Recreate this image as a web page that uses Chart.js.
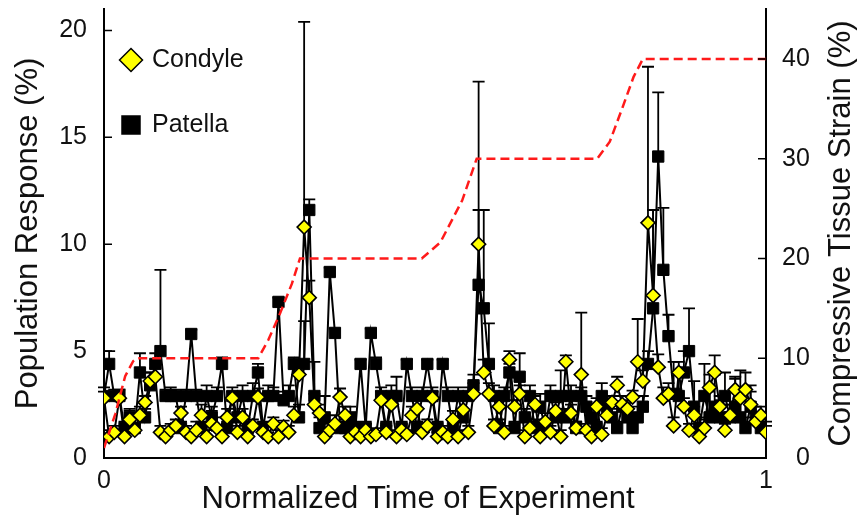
<!DOCTYPE html>
<html lang="en">
<head>
<meta charset="UTF-8">
<title>Population Response and Tissue Strain</title>
<script src="https://cdn.jsdelivr.net/npm/chart.js"></script>
<style>
body{margin:0;background:#fff;}
#wrap{width:858px;height:518px;}
</style>
</head>
<body>
<div id="wrap"><canvas id="chart"></canvas></div>
<script>
// mean response (%) and upper SD at each recording, in time order
const condyle = [
  2.8,1.0,1.2,2.8,1.0,1.8,1.3,2.0,2.6,3.6,
  3.8,1.2,1.0,1.3,1.5,2.1,1.2,1.0,1.3,2.0,
  1.0,1.6,1.4,1.0,1.9,2.8,1.2,1.9,1.0,1.5,
  2.85,1.2,1.0,1.6,1.0,1.45,1.2,2.0,3.9,10.8,
  7.5,2.5,2.1,1.0,1.3,1.6,2.85,2.0,1.0,1.2,
  1.0,1.3,1.0,1.1,2.7,1.2,2.5,1.0,1.3,1.1,
  2.0,2.3,1.2,1.5,2.8,1.0,1.2,1.0,1.8,1.0,
  2.25,1.2,3.0,10.0,4.0,3.0,1.5,2.4,1.2,4.6,
  2.4,3.0,1.0,1.4,2.5,1.0,1.7,1.2,2.2,1.0,
  4.5,2.1,1.4,3.9,1.3,1.0,2.4,1.1,2.0,2.6,
  3.4,2.5,2.3,2.85,4.5,3.6,11.0,7.6,4.25,2.8,
  3.0,1.5,4.0,2.4,1.3,2.0,1.0,1.4,3.3,4.0,
  2.4,1.3,2.0,3.2,2.8,3.2,2.5,1.7,2.0,1.2
];
const condyleErr = [
  0.3,0.3,0.3,0.4,0.2,0.5,0.3,0.4,0.3,0.4,
  0.4,0.3,0.2,0.3,0.3,0.3,0.3,0.3,0.4,0.5,
  0.3,0.6,0.5,0.3,0.4,0.3,0.3,0.4,0.2,0.3,
  0.4,0.3,0.2,0.3,0.3,0.3,0.3,0.4,0.5,9.6,
  0.8,0.5,0.4,0.3,0.3,0.4,0.4,0.4,0.3,0.3,
  0.3,0.3,0.2,0.3,0.4,0.3,0.4,0.3,0.3,0.2,
  0.4,0.4,0.3,0.3,0.3,0.2,0.3,0.3,0.4,0.3,
  0.5,0.3,0.5,7.6,0.6,0.5,0.3,0.4,0.3,0.4,
  0.3,0.4,0.3,0.3,0.4,0.3,0.4,0.3,0.4,0.3,
  0.3,0.4,0.3,2.9,0.3,0.2,0.4,0.3,0.4,0.3,
  0.4,0.4,0.4,0.3,2.0,0.5,7.3,4.0,0.6,0.5,
  0.5,0.4,0.5,0.4,0.3,0.4,0.3,0.4,0.6,0.8,
  0.5,0.3,0.5,0.5,1.3,0.8,0.6,0.4,0.4,0.3
];
const patella = [
  2.9,4.4,2.9,2.9,1.4,1.9,1.4,4.0,1.9,3.4,
  4.4,5.0,2.9,2.9,2.9,1.4,2.9,5.8,2.9,1.4,
  2.9,1.9,2.9,4.4,1.4,2.9,1.9,2.9,1.4,2.9,
  4.0,1.4,2.9,2.9,7.3,2.7,2.9,4.4,1.9,4.4,
  11.6,2.9,1.4,1.9,8.7,5.85,1.4,1.4,1.9,1.4,
  4.4,1.4,5.85,4.4,2.9,1.4,2.9,2.9,1.4,4.4,
  2.9,1.4,2.9,4.4,2.9,1.4,4.4,2.9,1.4,2.9,
  1.9,2.9,3.4,8.1,7.0,4.4,2.9,1.4,2.9,4.0,
  1.4,3.8,1.9,2.9,1.4,2.4,1.4,2.9,1.9,2.9,
  1.9,2.9,1.4,2.9,2.4,1.9,1.4,2.9,2.4,1.9,
  1.4,2.4,1.9,1.4,1.9,2.4,4.4,7.0,14.1,8.8,
  5.7,3.0,2.9,4.0,5.0,2.4,1.4,2.9,1.9,2.4,
  1.9,2.9,1.9,2.4,1.9,1.4,2.4,1.9,1.4,1.4
];
const patellaErr = [
  0.4,0.6,0.3,0.3,0.3,0.3,0.2,0.9,0.4,0.6,
  0.5,3.8,0.3,0.4,0.3,0.3,0.3,0.2,0.3,0.3,
  0.5,0.5,0.4,0.3,0.3,0.4,1.1,0.5,0.3,0.6,
  0.4,0.3,0.5,0.4,0.2,0.4,0.5,0.3,0.6,2.0,
  0.5,1.6,0.5,1.0,0.2,0.2,0.3,0.4,0.5,0.3,
  0.2,0.3,0.2,0.3,0.4,0.3,0.5,0.9,0.3,0.2,
  0.4,0.3,0.4,0.2,0.4,0.3,0.2,0.4,0.3,0.4,
  0.9,0.4,0.5,3.5,4.6,1.9,0.5,0.4,0.4,0.4,
  0.3,1.1,0.4,0.5,0.4,0.6,0.3,0.5,0.4,1.2,
  0.4,0.5,0.3,0.4,0.5,0.4,0.3,0.6,0.4,0.4,
  0.3,0.5,0.4,0.3,0.5,0.5,0.6,4.6,3.0,2.9,
  1.0,1.5,1.0,1.0,2.0,1.2,0.5,1.5,1.2,1.5,
  0.8,1.1,0.6,1.4,0.8,0.5,1.0,0.5,0.4,0.3
];

// applied compression steps (right axis)
const strainTime  = [0, 0.017, 0.032, 0.044, 0.05, 0.233, 0.248, 0.266, 0.284, 0.296, 0.48, 0.508, 0.541, 0.563, 0.745, 0.764, 0.782, 0.8, 0.814, 1];
const strainValue = [1, 4.4, 8.2, 9.7, 10, 10, 11.8, 14.5, 17.5, 20, 20, 21.6, 25.8, 30, 30, 31.7, 34.9, 38.2, 40, 40];

const responseTicks = [0, 5, 10, 15, 20];
const strainTicks = [0, 10, 20, 30, 40];
const timeTicks = [0, 1];

const FONT = "'Liberation Sans', Arial, sans-serif";

// recordings are evenly spaced over the run
const time = patella.map((v, i) => i / (patella.length - 1));
const pts = arr => arr.map((v, i) => ({x: time[i], y: v}));

// upper error bars, drawn under each series' markers
const errorBars = {
  id: 'errorBars',
  beforeDatasetDraw(chart, args) {
    const ds = chart.data.datasets[args.index];
    if (!ds.errors) return;
    const yScale = chart.scales[args.meta.yAxisID];
    const ctx = chart.ctx;
    ctx.save();
    ctx.strokeStyle = '#000';
    ctx.lineWidth = 1.8;
    ctx.beginPath();
    args.meta.data.forEach((p, i) => {
      const top = yScale.getPixelForValue(ds.data[i].y + ds.errors[i]);
      ctx.moveTo(p.x, p.y);
      ctx.lineTo(p.x, top);
      ctx.moveTo(p.x - 6, top);
      ctx.lineTo(p.x + 6, top);
    });
    ctx.stroke();
    ctx.restore();
  }
};

// inward tick marks, legend and the two titles Chart.js can't place this way
const decorations = {
  id: 'decorations',
  afterDraw(chart) {
    const {ctx, chartArea} = chart;
    const y = chart.scales.y, y1 = chart.scales.y1;
    ctx.save();
    ctx.strokeStyle = '#000';
    ctx.lineWidth = 1.5;
    ctx.beginPath();
    y.ticks.forEach(t => {
      const py = y.getPixelForValue(t.value);
      ctx.moveTo(chartArea.left, py);
      ctx.lineTo(chartArea.left + 8, py);
    });
    y1.ticks.forEach(t => {
      const py = y1.getPixelForValue(t.value);
      ctx.moveTo(chartArea.right, py);
      ctx.lineTo(chartArea.right - 8, py);
    });
    ctx.stroke();

    // legend
    const lx = chartArea.left + 27;
    ctx.font = '25px ' + FONT;
    ctx.textBaseline = 'middle';
    ctx.textAlign = 'left';
    chart.data.datasets.filter(d => d.errors).forEach((d, k) => {
      const ly = chartArea.top + 51 + k * 65;
      ctx.beginPath();
      if (d.pointStyle === 'rectRot') {
        ctx.moveTo(lx, ly - 11.5);
        ctx.lineTo(lx + 11.5, ly);
        ctx.lineTo(lx, ly + 11.5);
        ctx.lineTo(lx - 11.5, ly);
        ctx.closePath();
      } else {
        ctx.rect(lx - 9, ly - 9, 18, 18);
      }
      ctx.fillStyle = d.backgroundColor;
      ctx.fill();
      ctx.lineWidth = 1.5;
      ctx.stroke();
      ctx.fillStyle = '#111';
      ctx.fillText(d.label, lx + 21, ly);
    });

    // axis titles
    ctx.font = '31px ' + FONT;
    ctx.fillStyle = '#111';
    ctx.textAlign = 'center';
    ctx.fillText('Normalized Time of Experiment', 418, 499);
    ctx.translate(841, (chartArea.top + chartArea.bottom) / 2);
    ctx.rotate(-Math.PI / 2);
    ctx.fillText('Compressive Tissue Strain (%)', 0, 0);
    ctx.restore();
  }
};

const tickFont = {size: 25, family: FONT};

// fixed axis boxes so the plot area keeps its place
const noPad = s => { s.paddingTop = 0; s.paddingBottom = 0; s.paddingLeft = 0; s.paddingRight = 0; };

new Chart(document.getElementById('chart'), {
  type: 'line',
  data: {
    datasets: [
      {
        label: 'Strain',
        data: strainValue.map((v, i) => ({x: strainTime[i], y: v})),
        yAxisID: 'y1',
        borderColor: '#ff1a1a',
        borderWidth: 2.5,
        borderDash: [9, 5],
        pointRadius: 0,
        fill: false
      },
      {
        label: 'Condyle',
        data: pts(condyle),
        errors: condyleErr,
        yAxisID: 'y',
        borderColor: '#000',
        borderWidth: 2,
        pointStyle: 'rectRot',
        pointRadius: 7,
        pointBackgroundColor: '#ffff00',
        pointBorderColor: '#000',
        pointBorderWidth: 1.6,
        backgroundColor: '#ffff00'
      },
      {
        label: 'Patella',
        data: pts(patella),
        errors: patellaErr,
        yAxisID: 'y',
        borderColor: '#000',
        borderWidth: 2,
        pointStyle: 'rect',
        pointRadius: 8,
        pointBackgroundColor: '#000',
        pointBorderColor: '#000',
        pointBorderWidth: 1,
        backgroundColor: '#000'
      }
    ]
  },
  options: {
    responsive: true,
    maintainAspectRatio: false,
    animation: false,
    layout: {padding: {top: 9, left: 0, right: 0, bottom: 0}},
    plugins: {legend: {display: false}, tooltip: {enabled: false}},
    scales: {
      x: {
        type: 'linear',
        min: 0, max: 1,
        afterBuildTicks: s => { s.ticks = timeTicks.map(v => ({value: v})); },
        afterFit: s => { s.height = 60; noPad(s); },
        grid: {display: false, drawTicks: false},
        border: {color: '#000', width: 2},
        ticks: {font: tickFont, color: '#111', padding: 8, maxRotation: 0}
      },
      y: {
        position: 'left',
        min: 0, max: 21,
        afterBuildTicks: s => { s.ticks = responseTicks.map(v => ({value: v})); },
        afterFit: s => { s.width = 104; noPad(s); },
        grid: {display: false, drawTicks: false},
        border: {color: '#000', width: 2},
        ticks: {font: tickFont, color: '#111', padding: 17},
        title: {
          display: true,
          text: 'Population Response (%)',
          color: '#111',
          font: {size: 31, family: FONT, lineHeight: 1.1},
          padding: {top: 11, bottom: 0}
        }
      },
      y1: {
        position: 'right',
        min: 0, max: 45,
        afterBuildTicks: s => { s.ticks = strainTicks.map(v => ({value: v})); },
        afterFit: s => { s.width = 92; noPad(s); },
        grid: {display: false, drawTicks: false},
        border: {color: '#000', width: 2},
        ticks: {
          font: tickFont, color: '#111', padding: 16,
          callback: v => (v < 10 ? '\u2007' : '') + v
        }
      }
    }
  },
  plugins: [errorBars, decorations]
});
</script>
</body>
</html>
